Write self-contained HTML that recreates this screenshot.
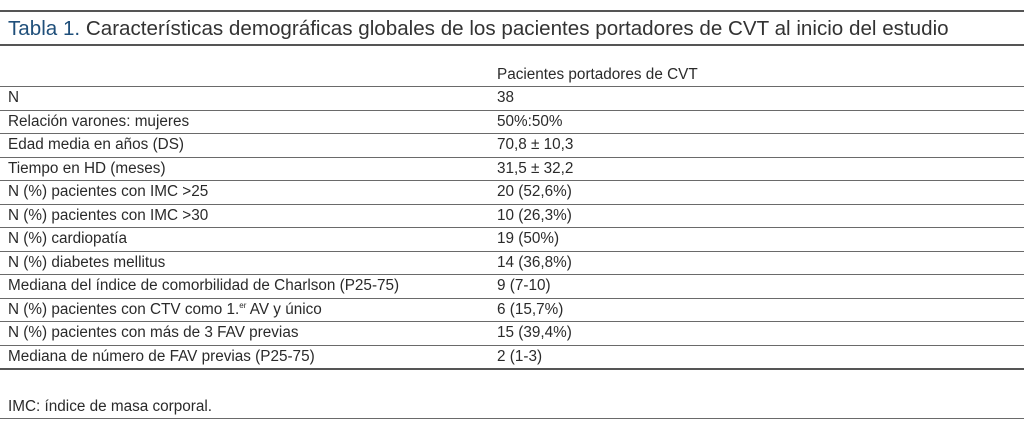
<!DOCTYPE html>
<html><head><meta charset="utf-8"><style>
body{margin:0;width:1024px;height:436px;background:#fff;position:relative;overflow:hidden;font-family:"Liberation Sans",sans-serif;color:#2a2a2a}
.l{position:absolute;left:0;width:1024px;height:1px;background:#6a6a6a}
.t{position:absolute;font-size:15.3px;white-space:nowrap;line-height:18px}
sup{font-size:8px;line-height:0;vertical-align:6px}
</style></head><body>
<div class="l" style="top:10px;height:2px;background:#555"></div>
<div class="t" style="left:8px;top:17px;font-size:20.6px;line-height:24px;color:#333">
<span style="color:#1f4f7a">Tabla 1.</span> Características demográficas globales de los pacientes portadores de CVT al inicio del estudio</div>
<div class="l" style="top:44px;height:2px;background:#555"></div>
<div class="t" style="left:497px;top:66px">Pacientes portadores de CVT</div>
<div id="rows"></div>
<div class="t" style="left:8px;top:398px">IMC: índice de masa corporal.</div>
<div class="l" style="top:418px"></div>
<script>
const labels=["N","Relación varones: mujeres","Edad media en años (DS)","Tiempo en HD (meses)","N (%) pacientes con IMC >25","N (%) pacientes con IMC >30","N (%) cardiopatía","N (%) diabetes mellitus","Mediana del índice de comorbilidad de Charlson (P25-75)","N (%) pacientes con CTV como 1.<sup>er</sup> AV y único","N (%) pacientes con más de 3 FAV previas","Mediana de número de FAV previas (P25-75)"];
const values=["38","50%:50%","70,8 ± 10,3","31,5 ± 32,2","20 (52,6%)","10 (26,3%)","19 (50%)","14 (36,8%)","9 (7-10)","6 (15,7%)","15 (39,4%)","2 (1-3)"];
const c=document.getElementById('rows');
let y0=86,h=23.5;
const r0=document.createElement('div');r0.className='l';r0.style.top=y0+'px';


c.appendChild(r0);
labels.forEach((lab,i)=>{
 const top=y0+i*h;
 const a=document.createElement('div');a.className='t';a.style.left='8px';a.style.top=(top+3)+'px';a.innerHTML=lab;
 
 
 c.appendChild(a);
 const b=document.createElement('div');b.className='t';b.style.left='497px';b.style.top=(top+3)+'px';b.textContent=values[i];
 
 
 c.appendChild(b);
 const l=document.createElement('div');l.className='l';l.style.top=Math.round(top+h)+'px';
 if(i==labels.length-1){l.style.height='2px';l.style.background='#555';}
 
 
 c.appendChild(l);
});
</script>
</body></html>
